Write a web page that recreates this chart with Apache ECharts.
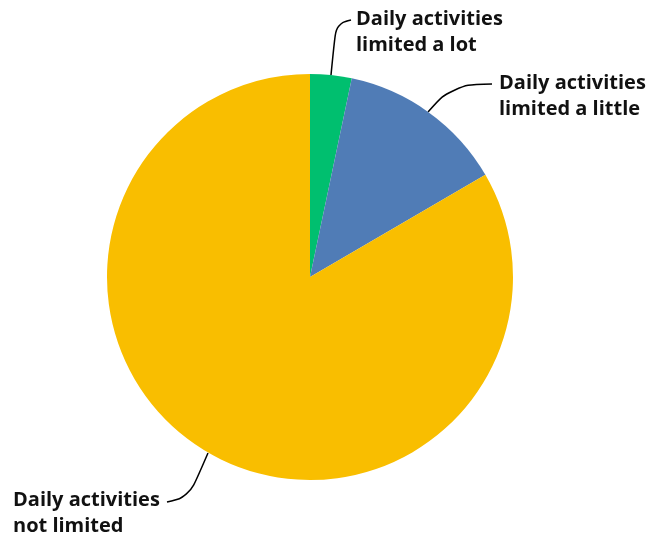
<!DOCTYPE html>
<html><head><meta charset="utf-8">
<script src="https://cdn.jsdelivr.net/npm/echarts@6/dist/echarts.min.js"></script>
<style>html,body{margin:0;padding:0;background:#fff}#c{width:657px;height:537px}</style>
</head><body><div id="c"></div>
<script>
var categories = ['Daily activities\nlimited a lot', 'Daily activities\nlimited a little', 'Daily activities\nnot limited'];
var values = [3.3, 13.3, 83.4];
var colors = ['#00BF6F', '#507CB6', '#F9BE00'];

var labelPos = [
  {x: 356, y: 32, pts: [[331, 75], [336, 24], [351, 20]]},
  {x: 499, y: 96, pts: [[428, 112], [452, 85], [492, 84]]},
  {x: 13, y: 513, pts: [[208, 453], [189, 497], [167, 502]]}
];

var chart = echarts.init(document.getElementById('c'), null, {renderer: 'canvas'});
chart.setOption({
  animation: false,
  series: [{
    type: 'pie',
    center: [310, 277],
    radius: [0, 203],
    startAngle: 90,
    clockwise: true,
    avoidLabelOverlap: false,
    data: categories.map(function (c, i) {
      return {name: c, value: values[i], itemStyle: {color: colors[i]}};
    }),
    label: {
      show: true,
      position: 'outside',
      formatter: '{b}',
      fontFamily: 'Open Sans',
      fontWeight: 'bold',
      fontSize: 20,
      lineHeight: 26,
      color: '#111',
      align: 'left'
    },
    labelLine: {
      show: true,
      smooth: 0.4,
      lineStyle: {color: '#000', width: 1.5}
    },
    labelLayout: function (p) {
      var l = labelPos[p.dataIndex];
      return {x: l.x, y: l.y, align: 'left', verticalAlign: 'middle', labelLinePoints: l.pts};
    },
    emphasis: {disabled: true}
  }]
});
</script></body></html>
